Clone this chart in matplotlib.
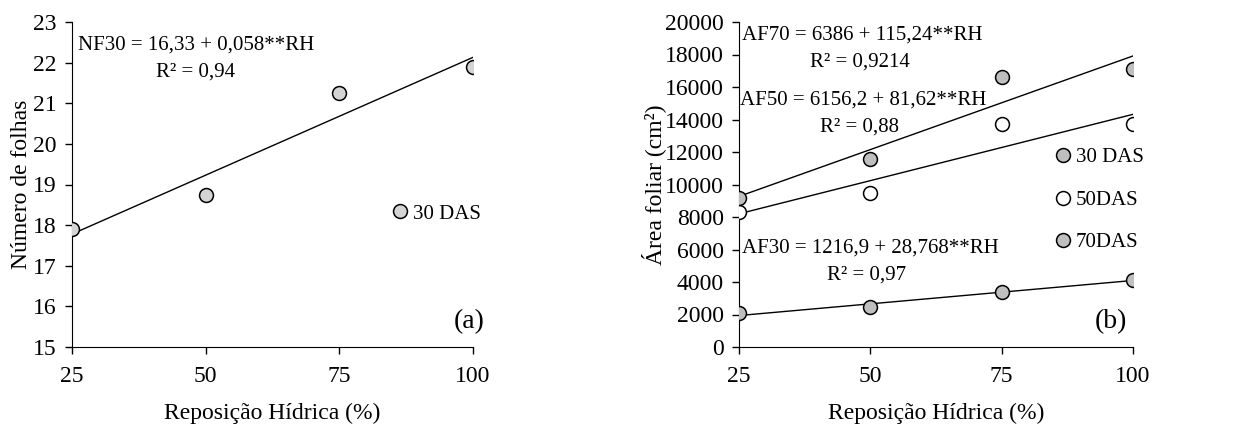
import matplotlib
matplotlib.use("Agg")
import matplotlib.pyplot as plt
import numpy as np

plt.rcParams["font.family"] = ["Liberation Serif", "DejaVu Serif"]

# ---- data ----
rh = [25, 50, 75, 100]

nf30 = [17.9, 18.75, 21.25, 21.9]
nf30_coef = (16.33, 0.058)

af30 = [2100, 2450, 3400, 4150]
af50 = [8300, 9500, 13700, 13700]
af70 = [9150, 11600, 16600, 17100]
af30_coef = (1216.9, 28.768)
af50_coef = (6156.2, 81.62)
af70_coef = (6386, 115.24)

x_ticks = [25, 50, 75, 100]
ya_ticks = [15, 16, 17, 18, 19, 20, 21, 22, 23]
yb_ticks = list(range(0, 20001, 2000))

W, H = 1238, 425
fig = plt.figure(figsize=(W / 100, H / 100), dpi=100)
ax1 = fig.add_axes([72 / W, 1 - 347 / H, 401 / W, 325 / H])
ax2 = fig.add_axes([739 / W, 1 - 347 / H, 394 / W, 325 / H])

GRAY_A = "#d4d4d4"
GRAY_B = "#bfbfbf"
FS = 17
mk = dict(marker="o", ms=10, mec="black", mew=1.1, ls="none", zorder=3)


def fit(coef):
    xx = np.array([rh[0], rh[-1]], dtype=float)
    return xx, coef[0] + coef[1] * xx


def style(ax):
    for s in ("top", "right"):
        ax.spines[s].set_visible(False)
    ax.tick_params(direction="out", length=5, labelsize=FS, width=1)
    ax.tick_params(axis="x", pad=9)
    ax.tick_params(axis="y", pad=6)
    ax.set_xlim(25, 100)
    ax.set_xticks(x_ticks)
    ax.set_xlabel("Reposição Hídrica (%)", fontsize=FS, labelpad=11)


# ---- panel (a) ----
ax1.plot(*fit(nf30_coef), color="black", lw=1, zorder=2)
ax1.plot(rh, nf30, mfc=GRAY_A, label="30 DAS", **mk)
style(ax1)
ax1.set_ylim(15, 23)
ax1.set_yticks(ya_ticks)
ax1.set_ylabel("Número de folhas", fontsize=FS, labelpad=0.5)
ax1.text(0.015, 0.929, "NF30 = 16,33 + 0,058**RH", transform=ax1.transAxes,
         fontsize=15, va="center", ha="left")
ax1.text(0.307, 0.846, "R² = 0,94", transform=ax1.transAxes,
         fontsize=15, va="center", ha="center")
ax1.text(1.03, 0.077, "(a)", transform=ax1.transAxes, fontsize=20,
         va="center", ha="right")
ax1.legend(loc="center left", bbox_to_anchor=(0.793, 0.41), frameon=False,
           fontsize=15, handlelength=1, handletextpad=0.1, borderpad=0,
           borderaxespad=0)

# ---- panel (b) ----
for coef in (af70_coef, af50_coef, af30_coef):
    ax2.plot(*fit(coef), color="black", lw=1, zorder=2)
ax2.plot(rh, af30, mfc=GRAY_B, label="30 DAS", **mk)
ax2.plot(rh, af50, mfc="white", label="50DAS", **mk)
ax2.plot(rh, af70, mfc=GRAY_B, label="70DAS", **mk)
style(ax2)
ax2.set_ylim(0, 20000)
ax2.set_yticks(yb_ticks)
ax2.set_ylabel("Área foliar (cm²)", fontsize=FS, labelpad=-1)
eq = [("AF70 = 6386 + 115,24**RH", 0.008, 0.96),
      ("R² = 0,9214", 0.307, 0.877),
      ("AF50 = 6156,2 + 81,62**RH", 0.003, 0.76),
      ("R² = 0,88", 0.307, 0.677),
      ("AF30 = 1216,9 + 28,768**RH", 0.008, 0.305),
      ("R² = 0,97", 0.325, 0.222)]
for txt, x, y in eq:
    ha = "center" if txt.startswith("R") else "left"
    ax2.text(x, y, txt, transform=ax2.transAxes, fontsize=15,
             va="center", ha=ha)
ax2.text(0.985, 0.077, "(b)", transform=ax2.transAxes, fontsize=20,
         va="center", ha="right")
ax2.legend(loc="center left", bbox_to_anchor=(0.797, 0.452), frameon=False,
           fontsize=15, handlelength=1, handletextpad=0.1, borderpad=0,
           borderaxespad=0, labelspacing=1.1)

fig.savefig("out.png", dpi=100, facecolor="white")
